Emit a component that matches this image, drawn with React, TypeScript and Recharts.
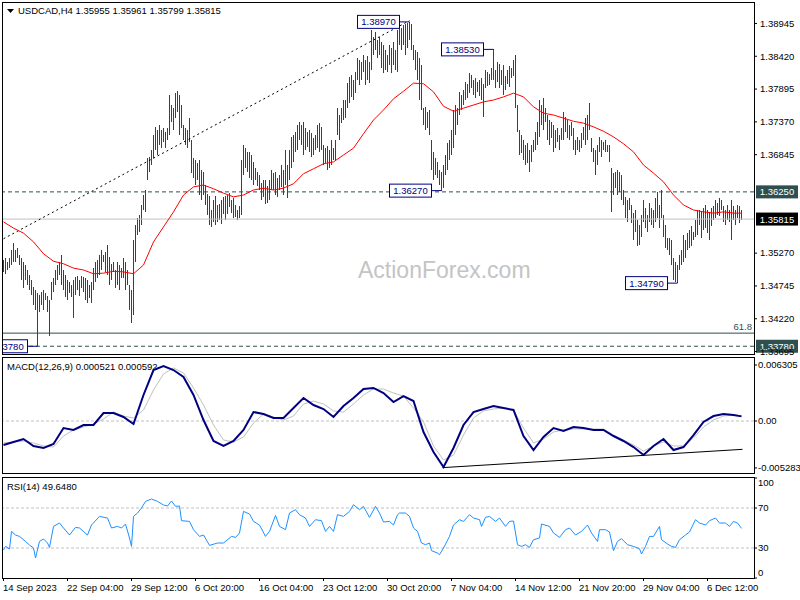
import React from "react";
import {
  ComposedChart,
  Bar,
  Line,
  XAxis,
  YAxis,
  ReferenceLine,
  ReferenceDot,
} from "recharts";

const FONT = "'Liberation Sans', Arial, sans-serif";
const FS = 9.5;

// USDCAD H4 bars (high / low), one per 4h from 14 Sep 2023
const barHigh = [
  1.3516, 1.3519, 1.3513, 1.3519, 1.3532, 1.3543, 1.3532, 1.3535, 1.3524, 1.3519,
  1.3513, 1.3508, 1.35, 1.3492, 1.3484, 1.3473, 1.3468, 1.3463, 1.346, 1.3465,
  1.3468, 1.3463, 1.3458, 1.3452, 1.3481, 1.3487, 1.35, 1.3508, 1.3513, 1.3524,
  1.35, 1.3492, 1.3484, 1.3481, 1.3476, 1.3484, 1.3489, 1.349, 1.3484, 1.349,
  1.3489, 1.3487, 1.3484, 1.3476, 1.3481, 1.3503, 1.3513, 1.3516, 1.3524, 1.3532,
  1.3524, 1.3529, 1.354, 1.3521, 1.351, 1.3513, 1.35, 1.3513, 1.3508, 1.3503,
  1.3519, 1.3513, 1.35, 1.3476, 1.3468, 1.3548, 1.3572, 1.3583, 1.3588, 1.3604,
  1.362, 1.3628, 1.3679, 1.3681, 1.3692, 1.3716, 1.3729, 1.3724, 1.3732, 1.3724,
  1.3727, 1.3721, 1.3727, 1.378, 1.3764, 1.3759, 1.3783, 1.3786, 1.378, 1.3764,
  1.3732, 1.3727, 1.3724, 1.3743, 1.3708, 1.3679, 1.3676, 1.3671, 1.3676, 1.366,
  1.3657, 1.3636, 1.3622, 1.3618, 1.3596, 1.3612, 1.3618, 1.3604, 1.3606, 1.3612,
  1.3617, 1.3618, 1.362, 1.3623, 1.3612, 1.3615, 1.3604, 1.3596, 1.3602, 1.3676,
  1.37, 1.3695, 1.3689, 1.3689, 1.3684, 1.3673, 1.3663, 1.3657, 1.3652, 1.3639,
  1.3644, 1.3644, 1.3634, 1.3644, 1.366, 1.3655, 1.3657, 1.3647, 1.3652, 1.3668,
  1.366, 1.3692, 1.3668, 1.3692, 1.3713, 1.3716, 1.3721, 1.3732, 1.3737, 1.3732,
  1.3737, 1.3727, 1.3721, 1.3724, 1.3719, 1.3711, 1.3716, 1.3732, 1.3735, 1.3729,
  1.37, 1.3695, 1.3698, 1.3692, 1.3708, 1.3695, 1.3708, 1.3759, 1.3748, 1.3759,
  1.3772, 1.3772, 1.3799, 1.3809, 1.3812, 1.3804, 1.3817, 1.3839, 1.3836, 1.3833,
  1.3844, 1.3836, 1.3842, 1.3833, 1.3884, 1.3873, 1.3881, 1.3868, 1.3873, 1.3865,
  1.386, 1.3852, 1.3844, 1.386, 1.3855, 1.3865, 1.3852, 1.3884, 1.3892, 1.3887,
  1.3892, 1.3894, 1.3895, 1.3897, 1.3893, 1.386, 1.3852, 1.3849, 1.3839, 1.3828,
  1.3759, 1.3761, 1.3753, 1.3756, 1.3708, 1.3689, 1.3679, 1.3673, 1.366, 1.3657,
  1.3668, 1.3684, 1.3703, 1.3708, 1.3724, 1.3756, 1.3764, 1.3759, 1.3785, 1.378,
  1.3788, 1.3801, 1.3798, 1.3815, 1.3812, 1.3804, 1.3807, 1.3801, 1.3804, 1.3807,
  1.3798, 1.382, 1.3817, 1.3814, 1.3823, 1.3853, 1.382, 1.3833, 1.383, 1.382,
  1.3828, 1.381, 1.382, 1.3826, 1.3823, 1.3836, 1.3844, 1.3764, 1.3724, 1.3716,
  1.3708, 1.37, 1.3703, 1.3692, 1.37, 1.3708, 1.3721, 1.3737, 1.3772, 1.3764,
  1.3775, 1.3759, 1.3748, 1.374, 1.3737, 1.3732, 1.3724, 1.3727, 1.3716, 1.3727,
  1.3753, 1.3745, 1.374, 1.3732, 1.3737, 1.3727, 1.3708, 1.3713, 1.3708, 1.3719,
  1.3729, 1.3743, 1.3748, 1.3767, 1.3711, 1.3695, 1.3692, 1.37, 1.3713, 1.3708,
  1.3705, 1.3708, 1.37, 1.37, 1.3663, 1.3655, 1.3657, 1.366, 1.3657, 1.3652,
  1.3628, 1.3617, 1.3612, 1.3615, 1.3604, 1.3591, 1.3596, 1.358, 1.3572, 1.3588,
  1.3612, 1.3599, 1.3588, 1.3607, 1.3599, 1.3596, 1.3615, 1.3625, 1.3604, 1.3628,
  1.3588, 1.3572, 1.3551, 1.3551, 1.3548, 1.3519, 1.3513, 1.3508, 1.3524, 1.3532,
  1.3556, 1.3548, 1.3559, 1.3564, 1.357, 1.3561, 1.358, 1.3596, 1.3596, 1.3593,
  1.3599, 1.3604, 1.3596, 1.3593, 1.3599, 1.3602, 1.3612, 1.3607, 1.3615, 1.3612,
  1.3602, 1.3596, 1.3604, 1.3596, 1.3612, 1.3602, 1.3596, 1.3604, 1.3602, 1.3596,
];

const barLow = [
  1.3497, 1.3494, 1.35, 1.3503, 1.3508, 1.3513, 1.3513, 1.3519, 1.3508, 1.3484,
  1.3471, 1.3484, 1.3476, 1.3468, 1.346, 1.3444, 1.3436, 1.3378, 1.3433, 1.3444,
  1.3436, 1.3452, 1.3433, 1.3394, 1.3452, 1.3465, 1.3476, 1.3484, 1.3492, 1.3476,
  1.3468, 1.3457, 1.3452, 1.3463, 1.3457, 1.3423, 1.346, 1.3468, 1.3458, 1.3471,
  1.3465, 1.3452, 1.3447, 1.3455, 1.3447, 1.3468, 1.3481, 1.3487, 1.3492, 1.35,
  1.3513, 1.3497, 1.3492, 1.3476, 1.3484, 1.3497, 1.3471, 1.3476, 1.3468, 1.3487,
  1.3487, 1.3468, 1.3476, 1.3436, 1.3415, 1.3428, 1.3513, 1.3556, 1.3561, 1.3572,
  1.3596, 1.3593, 1.3644, 1.3657, 1.3668, 1.3679, 1.3692, 1.3684, 1.37, 1.3695,
  1.3705, 1.3695, 1.3708, 1.3716, 1.3737, 1.3724, 1.3743, 1.3753, 1.3716, 1.3727,
  1.3708, 1.37, 1.3695, 1.3705, 1.3655, 1.3647, 1.3636, 1.3644, 1.362, 1.3612,
  1.362, 1.3604, 1.3588, 1.3572, 1.3569, 1.3577, 1.3572, 1.3577, 1.358, 1.3574,
  1.359, 1.358, 1.359, 1.3601, 1.3591, 1.3583, 1.3585, 1.358, 1.3583, 1.3588,
  1.3652, 1.3663, 1.3657, 1.3647, 1.3644, 1.3636, 1.3644, 1.3634, 1.3628, 1.3612,
  1.3617, 1.3606, 1.3607, 1.3612, 1.3628, 1.3628, 1.362, 1.3617, 1.3628, 1.3633,
  1.362, 1.3636, 1.3615, 1.3644, 1.3663, 1.3673, 1.3689, 1.3692, 1.3708, 1.37,
  1.3684, 1.3692, 1.3697, 1.3689, 1.3681, 1.3684, 1.3692, 1.3695, 1.3689, 1.3692,
  1.3668, 1.3671, 1.366, 1.3663, 1.3668, 1.3676, 1.3676, 1.3716, 1.3708, 1.3735,
  1.374, 1.3743, 1.3759, 1.3767, 1.3777, 1.3772, 1.3783, 1.3804, 1.3796, 1.3804,
  1.3817, 1.3796, 1.3804, 1.3799, 1.382, 1.3844, 1.3852, 1.3839, 1.3844, 1.3823,
  1.3815, 1.382, 1.3817, 1.3828, 1.3815, 1.3828, 1.382, 1.3817, 1.386, 1.3852,
  1.386, 1.3844, 1.3855, 1.3868, 1.3852, 1.3836, 1.382, 1.3804, 1.3772, 1.3756,
  1.3732, 1.3724, 1.3727, 1.3716, 1.366, 1.3644, 1.3652, 1.3647, 1.3636, 1.3627,
  1.3631, 1.3652, 1.366, 1.3676, 1.3684, 1.3695, 1.3716, 1.3732, 1.3748, 1.3756,
  1.3764, 1.3772, 1.3775, 1.3783, 1.3791, 1.378, 1.3775, 1.3785, 1.3778, 1.3772,
  1.3745, 1.3791, 1.3794, 1.3796, 1.3804, 1.3804, 1.3791, 1.3801, 1.3791, 1.3796,
  1.378, 1.3788, 1.3798, 1.3793, 1.3807, 1.381, 1.3759, 1.3721, 1.3684, 1.3687,
  1.3676, 1.3668, 1.3671, 1.3657, 1.3673, 1.3689, 1.3692, 1.37, 1.3713, 1.3732,
  1.3724, 1.3737, 1.3708, 1.37, 1.3711, 1.3689, 1.3695, 1.3705, 1.3692, 1.3708,
  1.3708, 1.3721, 1.3711, 1.3708, 1.3714, 1.3692, 1.3684, 1.3692, 1.3689, 1.3695,
  1.3708, 1.37, 1.3708, 1.3724, 1.3689, 1.3673, 1.3652, 1.3668, 1.3689, 1.3681,
  1.3692, 1.3689, 1.3689, 1.3673, 1.3593, 1.362, 1.3631, 1.362, 1.3625, 1.3612,
  1.3604, 1.3583, 1.3577, 1.3596, 1.3575, 1.3548, 1.3561, 1.3538, 1.354, 1.3553,
  1.3577, 1.3567, 1.3561, 1.3577, 1.3572, 1.3567, 1.3577, 1.3583, 1.3567, 1.3583,
  1.3553, 1.3535, 1.3532, 1.3524, 1.3508, 1.3484, 1.3481, 1.3479, 1.35, 1.3508,
  1.3513, 1.3519, 1.3532, 1.3535, 1.3538, 1.3548, 1.3553, 1.3556, 1.3572, 1.3551,
  1.3564, 1.3567, 1.3559, 1.3548, 1.357, 1.358, 1.3583, 1.3588, 1.3586, 1.3596,
  1.3577, 1.3572, 1.358, 1.3577, 1.3548, 1.358, 1.3572, 1.3583, 1.3575, 1.358,
];

// red moving average, MACD and signal, read every 5th bar (last one on the final bar)
const maVals = [
  1.3577, 1.3567, 1.3559, 1.3545, 1.3526, 1.3514, 1.351, 1.3503, 1.35, 1.3494,
  1.3495, 1.3498, 1.3497, 1.3494, 1.3508, 1.3545, 1.3569, 1.3593, 1.362, 1.3633,
  1.3636, 1.363, 1.3623, 1.3617, 1.362, 1.3628, 1.3631, 1.3628, 1.3631, 1.3638,
  1.3654, 1.3662, 1.367, 1.3673, 1.3684, 1.3695, 1.3718, 1.374, 1.3756, 1.3774,
  1.3786, 1.3799, 1.3798, 1.3785, 1.3762, 1.3754, 1.3759, 1.3764, 1.3769, 1.3772,
  1.3777, 1.3783, 1.3777, 1.3761, 1.3751, 1.3748, 1.3743, 1.3738, 1.3735, 1.3729,
  1.3722, 1.3713, 1.3702, 1.3689, 1.3668, 1.3655, 1.3641, 1.362, 1.3604, 1.3596,
  1.3593, 1.3591, 1.3593, 1.3591, 1.3591,
];

const macdVals = [
  -0.0027, -0.00236, -0.00203, -0.00281, -0.00304, -0.00259, -0.00079, -0.00101, -0.00045, -0.00045,
  0.0009, 0.0009, 0.00045, -0.00034, 0.00293, 0.00574, 0.00619, 0.00574, 0.00495, 0.00293,
  0.00011, -0.00225, -0.00281, -0.00225, -0.00101, 0.00101, 0.00079, 0.00034, 0.00034, 0.00146,
  0.00259, 0.0018, 0.00135, 0.00045, 0.00169, 0.00259, 0.0036, 0.00372, 0.00315, 0.00214,
  0.00281, 0.00225, -0.00124, -0.00349, -0.00518, -0.00304, -0.00045, 0.00101, 0.00135, 0.00169,
  0.00146, 0.00124, -0.00169, -0.00327, -0.0018, -0.00079, -0.00113, -0.00068, -0.00079, -0.00101,
  -0.00101, -0.00169, -0.00225, -0.00293, -0.00383, -0.00281, -0.00203, -0.00327, -0.00293, -0.00158,
  -0.00011, 0.00056, 0.00079, 0.00068, 0.000521,
];

const signalVals = [
  -0.00248, -0.00236, -0.00225, -0.00248, -0.00281, -0.00293, -0.00169, -0.00101, -0.00068, -0.00034,
  0.00023, 0.00101, 0.00056, 0.00034, 0.00124, 0.00349, 0.00529, 0.00597, 0.0054, 0.00372,
  0.0018, -0.00045, -0.00214, -0.00236, -0.0018, -0.00023, 0.00079, 0.00045, 0.00011, 0.00056,
  0.00191, 0.00225, 0.00191, 0.00113, 0.00101, 0.00191, 0.00293, 0.0036, 0.0036, 0.00315,
  0.00281, 0.00146, -0.00011, -0.00281, -0.00439, -0.00383, -0.00158, 0.00034, 0.00113, 0.00135,
  0.00146, 0.00124, -0.00079, -0.00248, -0.00203, -0.00124, -0.00101, -0.0009, -0.0009, -0.0009,
  -0.0009, -0.00158, -0.00214, -0.0027, -0.00338, -0.00281, -0.00236, -0.00281, -0.00281, -0.00191,
  -0.00068, 0.00011, 0.00056, 0.00068, 0.000592,
];

// RSI(14): bar index and value
const rsiIdx = [
  0, 1, 3, 4, 6, 8, 11, 13, 15, 16, 18, 20, 22, 23, 25, 28, 30, 33, 36, 38,
  42, 44, 48, 52, 54, 57, 59, 61, 63, 64, 65, 67, 69, 71, 74, 77, 80, 82, 84, 86,
  88, 89, 93, 95, 98, 100, 103, 107, 110, 114, 116, 118, 120, 123, 125, 128, 131, 133, 136, 138,
  141, 143, 146, 148, 151, 153, 156, 159, 161, 163, 165, 167, 170, 173, 175, 178, 180, 183, 186, 188,
  190, 193, 195, 197, 198, 201, 203, 205, 207, 209, 211, 213, 214, 217, 218, 220, 223, 225, 228, 230,
  233, 235, 238, 239, 241, 243, 246, 248, 251, 253, 255, 257, 259, 261, 263, 265, 268, 269, 273, 275,
  278, 281, 283, 286, 289, 292, 294, 297, 298, 301, 303, 305, 307, 309, 312, 315, 318, 319, 321, 323,
  325, 328, 329, 332, 334, 336, 338, 341, 343, 346, 348, 351, 353, 356, 358, 361, 363, 365, 367, 369,
];
const rsiVals = [
  28, 31.6, 29, 46.6, 43, 41.6, 36.6, 33, 30, 20, 36.6, 39, 35, 30.6, 51.6, 55, 50, 43, 50.6, 50,
  43, 53, 61.6, 60, 50, 51.6, 50, 54, 40, 31.6, 61.6, 65, 70, 76.6, 79, 76.6, 73, 72, 77, 71.6,
  72, 57.3, 56.6, 48.3, 41.6, 43, 32.6, 35, 35, 41.6, 40.6, 45, 66.6, 64, 56.6, 53, 41.6, 46.6, 62.6, 51.6,
  48.3, 65, 68.3, 63.3, 60, 51.6, 58.3, 57.3, 46.6, 51.6, 46.6, 63.3, 61.6, 66.6, 73.3, 68.3, 71.6, 60.6, 71.6, 65,
  56, 56.6, 53, 63.3, 65, 65, 61.6, 50, 46.6, 35, 33.3, 35, 27.3, 25, 23.3, 30, 41.6, 53, 58.3, 56.6,
  63.3, 60, 58.3, 51.6, 60.6, 61.6, 56.6, 60, 51.6, 56.6, 57, 33.3, 31.6, 33.3, 30.6, 38.3, 40, 54, 51.6, 45,
  40.6, 48.3, 50, 43, 46.6, 53, 45, 36.6, 48.3, 48.3, 46, 27.3, 36.6, 39.3, 33.3, 31.6, 29.3, 24, 31.6, 41.6,
  41.6, 51.6, 38.3, 34, 31.6, 30.6, 38.3, 43, 46, 58.3, 55, 53, 57.3, 60, 55, 55, 51.6, 56.6, 55, 49.6,
];

const priceTicks = [1.38945, 1.3842, 1.37895, 1.3737, 1.36845, 1.3527, 1.34745, 1.3422, 1.33695];
const macdTicks = [0.006305, 0, -0.005283];
const rsiTicks = [100, 70, 30, 0];
const dateTicks = [0, 32, 64, 96, 128, 160, 192, 224, 256, 288, 320, 352];
const dateLabels = [
  "14 Sep 2023", "22 Sep 04:00", "29 Sep 12:00", "6 Oct 20:00", "16 Oct 04:00", "23 Oct 12:00",
  "30 Oct 20:00", "7 Nov 04:00", "14 Nov 12:00", "21 Nov 20:00", "29 Nov 04:00", "6 Dec 12:00",
];

const X_DOMAIN: [number, number] = [-0.25, 375.25];
const sampleIdx = (k: number) => Math.min(k * 5, barHigh.length - 1);

const maByIdx = new Map(maVals.map((v, k) => [sampleIdx(k), v]));
const mainRows = barHigh.map((h, i) => ({ i, hl: [barLow[i], h], ma: maByIdx.has(i) ? maByIdx.get(i) : null }));
const macdRows = macdVals.map((v, k) => ({ i: sampleIdx(k), macd: v, signal: signalVals[k] }));
const rsiRows = rsiIdx.map((i, k) => ({ i, rsi: rsiVals[k] }));

const SLATE = "#2f4f4f";
const NAVY = "#000080";
const BAR = "#1c4966";

const tickStyle = { fontSize: FS, fill: "#000", fontFamily: FONT };

function AxisTag({ viewBox, text, bg }: any) {
  const y = viewBox.y;
  const x = viewBox.x + viewBox.width + 2;
  return (
    <g>
      <rect x={x} y={y - 6.5} width={42} height={13} fill={bg} />
      <text x={x + 21} y={y + 3.5} textAnchor="middle" fill="#fff" fontSize={FS} fontFamily={FONT}>
        {text}
      </text>
    </g>
  );
}

function PriceTag({ cx, cy, text }: any) {
  const right = cx - 10;
  return (
    <g>
      <line x1={right} y1={cy} x2={cx} y2={cy} stroke={NAVY} />
      <rect x={right - 42} y={cy - 6.5} width={42} height={13} fill="#fff" stroke={NAVY} />
      <text x={right - 21} y={cy + 3.5} textAnchor="middle" fill={NAVY} fontSize={FS} fontFamily={FONT}>
        {text}
      </text>
    </g>
  );
}

// one-pixel high-low stick, snapped to the pixel grid
function HLStick(p: any) {
  const top = Math.min(p.y, p.y + p.height);
  const h = Math.max(1, Math.round(Math.abs(p.height)));
  return <rect x={Math.round(p.x + p.width / 2 - 0.5)} y={Math.round(top)} width={1} height={h} fill={BAR} shapeRendering="crispEdges" />;
}

function RsiTick({ x, y, payload }: any) {
  const v = payload.value;
  const dy = v === 100 ? 5 : v === 0 ? -5 : 0;
  return (
    <text x={x} y={y + dy + 3.3} textAnchor="start" fontSize={FS} fill="#000" fontFamily={FONT}>
      {v}
    </text>
  );
}

function DateTick({ x, y, payload }: any) {
  const k = dateTicks.indexOf(payload.value);
  return (
    <text x={x - 0.5} y={y + 7} textAnchor="start" fontSize={FS} fill="#000" fontFamily={FONT}>
      {dateLabels[k]}
    </text>
  );
}

const box = (top: number, height: number): React.CSSProperties => ({
  position: "absolute",
  left: 2,
  top,
  width: 751,
  height,
  border: "1px solid #000",
  pointerEvents: "none",
});

export default function App() {
  return (
    <div style={{ position: "absolute", left: 0, top: 0, width: 800, height: 600, background: "#fff", fontFamily: FONT, overflow: "hidden" }}>
      <svg width={800} height={600} style={{ position: "absolute", left: 0, top: 0 }}>
        <polygon points="7,9 14,9 10.5,13" fill="#000" />
        <text x={18} y={14} fontSize={FS} fontFamily={FONT} fill="#000">
          {"USDCAD,H4  1.35955 1.35961 1.35799 1.35815"}
        </text>
        <text x={358} y={278} fontSize={23} fontFamily={FONT} fill="#c4c4c4">
          ActionForex.com
        </text>
        <text x={7} y={369.5} fontSize={FS} fontFamily={FONT} fill="#000">
          MACD(12,26,9) 0.000521 0.000592
        </text>
        <text x={7} y={489.5} fontSize={FS} fontFamily={FONT} fill="#000">
          RSI(14) 49.6480
        </text>
      </svg>

      <div style={{ position: "absolute", left: 0, top: 0 }}>
        <ComposedChart width={800} height={355} data={mainRows} margin={{ top: 3, right: 0, bottom: 1, left: 3 }}>
          <XAxis type="number" dataKey="i" domain={X_DOMAIN} allowDataOverflow hide />
          <YAxis
            orientation="right"
            width={46}
            domain={[1.33656, 1.39272]}
            allowDataOverflow
            ticks={priceTicks}
            interval={0}
            tickFormatter={(v: number) => v.toFixed(5)}
            tick={tickStyle}
            tickSize={3}
            tickMargin={3}
            axisLine={false}
            tickLine={{ stroke: "#000" }}
          />
          <ReferenceLine y={1.35815} stroke="#c0c0c0" label={{ content: (p: any) => <AxisTag viewBox={p.viewBox} text="1.35815" bg="#000" /> }} />
          <ReferenceLine y={1.3625} stroke={SLATE} strokeDasharray="4 3" label={{ content: (p: any) => <AxisTag viewBox={p.viewBox} text="1.36250" bg={SLATE} /> }} />
          <ReferenceLine
            y={1.3399}
            stroke={SLATE}
            label={{
              content: (p: any) => (
                <text x={p.viewBox.x + p.viewBox.width - 2} y={p.viewBox.y - 3} textAnchor="end" fontSize={FS} fontFamily={FONT} fill={SLATE}>
                  61.8
                </text>
              ),
            }}
          />
          <ReferenceLine y={1.3378} stroke={SLATE} strokeDasharray="4 3" label={{ content: (p: any) => <AxisTag viewBox={p.viewBox} text="1.33780" bg={SLATE} /> }} />
          <ReferenceLine segment={[{ x: 0, y: 1.355 }, { x: 203, y: 1.3899 }]} stroke="#000" strokeDasharray="2 3" />
          <Bar dataKey="hl" barSize={1} fill={BAR} shape={<HLStick />} isAnimationActive={false} />
          <Line type="linear" dataKey="ma" stroke="#ff0000" strokeWidth={1} dot={false} connectNulls isAnimationActive={false} />
          <ReferenceDot x={203} y={1.3897} shape={(p: any) => <PriceTag cx={p.cx} cy={p.cy} text="1.38970" />} />
          <ReferenceDot x={245} y={1.3853} shape={(p: any) => <PriceTag cx={p.cx} cy={p.cy} text="1.38530" />} />
          <ReferenceDot x={219} y={1.3627} shape={(p: any) => <PriceTag cx={p.cx} cy={p.cy} text="1.36270" />} />
          <ReferenceDot x={337} y={1.3479} shape={(p: any) => <PriceTag cx={p.cx} cy={p.cy} text="1.34790" />} />
          <ReferenceDot x={17} y={1.3378} shape={(p: any) => <PriceTag cx={p.cx} cy={p.cy} text="1.33780" />} />
        </ComposedChart>
      </div>

      <div style={{ position: "absolute", left: 0, top: 355 }}>
        <ComposedChart width={800} height={120} data={macdRows} margin={{ top: 3, right: 0, bottom: 1, left: 3 }}>
          <XAxis type="number" dataKey="i" domain={X_DOMAIN} allowDataOverflow hide />
          <YAxis
            orientation="right"
            width={46}
            domain={[-0.005967, 0.007093]}
            allowDataOverflow
            ticks={macdTicks}
            interval={0}
            tickFormatter={(v: number) => (v === 0 ? "0.00" : v.toFixed(6))}
            tick={tickStyle}
            tickSize={3}
            tickMargin={1}
            axisLine={false}
            tickLine={{ stroke: "#000" }}
          />
          <ReferenceLine y={0} stroke="#c0c0c0" strokeDasharray="3 2" />
          <Line type="linear" dataKey="signal" stroke="#c0c0c0" strokeWidth={1} dot={false} isAnimationActive={false} />
          <Line type="linear" dataKey="macd" stroke={NAVY} strokeWidth={2} dot={false} isAnimationActive={false} />
          <ReferenceLine segment={[{ x: 219.5, y: -0.00525 }, { x: 369.5, y: -0.00319 }]} stroke="#000" />
        </ComposedChart>
      </div>

      <div style={{ position: "absolute", left: 0, top: 475 }}>
        <ComposedChart width={800} height={125} data={rsiRows} margin={{ top: 3, right: 0, bottom: 1, left: 3 }}>
          <XAxis
            type="number"
            dataKey="i"
            domain={X_DOMAIN}
            allowDataOverflow
            ticks={dateTicks}
            interval={0}
            height={21}
            tick={<DateTick />}
            tickSize={3}
            tickMargin={3}
            axisLine={false}
            tickLine={{ stroke: "#000" }}
          />
          <YAxis
            orientation="right"
            width={46}
            domain={[0, 100]}
            allowDataOverflow
            ticks={rsiTicks}
            interval={0}
            tick={<RsiTick />}
            tickSize={3}
            tickMargin={1}
            axisLine={false}
            tickLine={{ stroke: "#000" }}
          />
          <ReferenceLine y={70} stroke="#c0c0c0" strokeDasharray="3 2" />
          <ReferenceLine y={30} stroke="#c0c0c0" strokeDasharray="3 2" />
          <Line type="linear" dataKey="rsi" stroke="#1e90ff" strokeWidth={1} dot={false} isAnimationActive={false} />
        </ComposedChart>
      </div>

      <div style={{ position: "absolute", left: 0, top: 0, width: 2, height: 600, background: "#fff" }} />
      <div style={box(2, 351)} />
      <div style={box(357, 115)} />
      <div style={box(477, 100)} />
    </div>
  );
}
